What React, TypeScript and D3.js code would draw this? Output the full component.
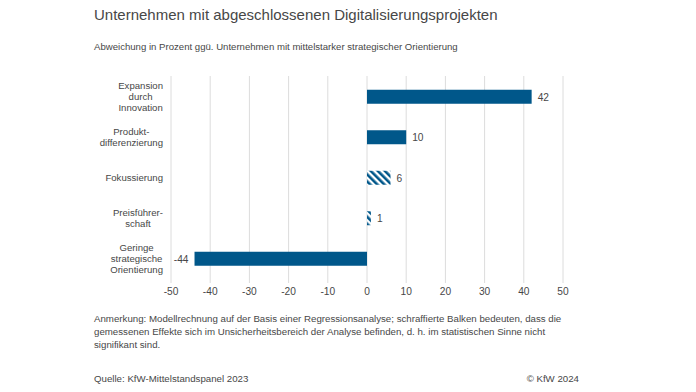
import React from "react";
import * as d3 from "d3";

const categories: string[][] = [
  ["Expansion", "durch", "Innovation"],
  ["Produkt-", "differenzierung"],
  ["Fokussierung"],
  ["Preisführer-", "schaft"],
  ["Geringe", "strategische", "Orientierung"],
];
const values: number[] = [42, 10, 6, 1, -44];
const significant: boolean[] = [true, true, false, false, true];
const xTicks: number[] = [-50, -40, -30, -20, -10, 0, 10, 20, 30, 40, 50];

const title = "Unternehmen mit abgeschlossenen Digitalisierungsprojekten";
const subtitle = "Abweichung in Prozent ggü. Unternehmen mit mittelstarker strategischer Orientierung";
const noteLines = [
  "Anmerkung: Modellrechnung auf der Basis einer Regressionsanalyse; schraffierte Balken bedeuten, dass die",
  "gemessenen Effekte sich im Unsicherheitsbereich der Analyse befinden, d. h. im statistischen Sinne nicht",
  "signifikant sind.",
];
const source = "Quelle: KfW-Mittelstandspanel 2023";
const copyright = "© KfW 2024";

const W = 696;
const H = 392;
const BLUE = "#00578a";
const TEXT = "#474747";
const FONT = "'Liberation Sans', Arial, sans-serif";
const CAT_FS = 9.6;

let ctx: CanvasRenderingContext2D | null = null;
function textWidth(s: string, size: number): number {
  if (!ctx) {
    const c = document.createElement("canvas");
    ctx = c.getContext("2d");
  }
  if (!ctx) return s.length * size * 0.5;
  ctx.font = `${size}px 'Liberation Sans', Arial, sans-serif`;
  return ctx.measureText(s).width;
}

export default function App() {
  const x = d3.scaleLinear().domain([-50, 50]).range([171, 563]);
  const keys = categories.map((_, i) => String(i));
  const y = d3.scaleBand<string>().domain(keys).range([76.5, 279]).padding(0);
  const barH = 14;
  const lineH = 11;
  const labelRight = 163;

  return (
    <svg
      width={W}
      height={H}
      style={{ position: "absolute", left: 0, top: 0, background: "#fff", fontFamily: FONT }}
    >
      <defs>
        <pattern id="hatch" patternUnits="userSpaceOnUse" width="5" height="5" patternTransform="rotate(-45)">
          <rect width="5" height="5" fill="#fff" />
          <rect x="0" y="0" width="2.6" height="5" fill={BLUE} />
        </pattern>
      </defs>
      <rect width={W} height={H} fill="#fff" />
      <text x={94} y={20} fontSize={15} fill={TEXT}>{title}</text>
      <text x={94} y={49.5} fontSize={9.6} fill={TEXT}>{subtitle}</text>

      {xTicks.map((t) => (
        <g key={t}>
          <line x1={x(t)} x2={x(t)} y1={76} y2={283} stroke="#dcdcdc" strokeWidth={1} />
          <text x={x(t)} y={295} fontSize={10.2} fill={TEXT} textAnchor="middle">{t}</text>
        </g>
      ))}

      {values.map((v, i) => {
        const cy = (y(keys[i]) as number) + y.bandwidth() / 2;
        const x0 = x(Math.min(0, v));
        const x1 = x(Math.max(0, v));
        const lines = categories[i];
        const startY = cy - ((lines.length - 1) * lineH) / 2;
        const maxW = Math.max(...lines.map((l) => textWidth(l, CAT_FS)));
        const cx = labelRight - maxW / 2;
        return (
          <g key={i}>
            <rect
              x={x0}
              y={cy - barH / 2}
              width={x1 - x0}
              height={barH}
              fill={significant[i] ? BLUE : "url(#hatch)"}
            />
            <text
              x={v >= 0 ? x1 + 6 : x0 - 6}
              y={cy + 3.8}
              fontSize={10.2}
              fill={TEXT}
              textAnchor={v >= 0 ? "start" : "end"}
            >
              {v}
            </text>
            {lines.map((l, j) => (
              <text key={j} x={cx} y={startY + j * lineH + 3.5} fontSize={CAT_FS} fill={TEXT} textAnchor="middle">
                {l}
              </text>
            ))}
          </g>
        );
      })}

      {noteLines.map((l, j) => (
        <text key={j} x={94} y={322 + j * 13} fontSize={9.7} fill={TEXT}>{l}</text>
      ))}
      <text x={94} y={382} fontSize={9.7} fill={TEXT}>{source}</text>
      <text x={579} y={382} fontSize={9.7} fill={TEXT} textAnchor="end">{copyright}</text>
    </svg>
  );
}
